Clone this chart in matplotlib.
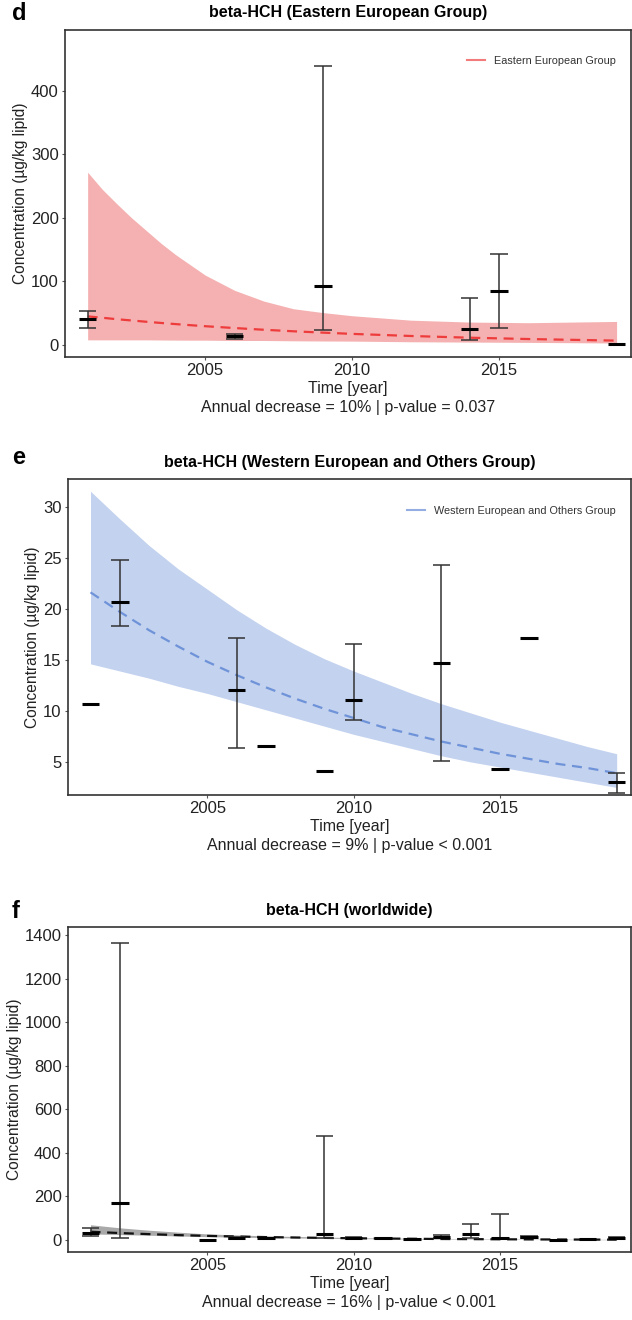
import numpy as np
import matplotlib
matplotlib.use("Agg")
import matplotlib.pyplot as plt

plt.rcParams['font.family'] = ['Liberation Sans', 'DejaVu Sans']

nan = np.nan

# ---- panel d: Eastern European Group ----
d_years = [2001, 2006, 2009, 2014, 2015, 2019]
d_mean = [41, 14, 93, 25, 85, 2]
d_low = [27, 10, 23, 7, 26, nan]
d_high = [54, 18, 440, 74, 143, nan]
d_fit_years = [2001, 2001.5, 2002, 2002.5, 2003, 2003.5, 2004, 2004.5, 2005, 2006, 2007,
               2008, 2009, 2010, 2012, 2014, 2016, 2019]
d_fit = [45, 42.8, 40.5, 38.5, 36.5, 34.6, 32.8, 31.1, 29.5, 26.6, 23.9,
         21.5, 19.4, 17.4, 14.1, 11.4, 9.3, 6.8]
d_upper = [272, 245, 222, 200, 180, 160, 142, 126, 110, 86, 69,
           57, 51, 46, 39, 36, 35, 37]
d_lower = [8, 8, 8, 8, 8, 7.8, 7.6, 7.5, 7.5, 7, 7,
           6.5, 6.2, 6, 5, 4.5, 4, 3]

# ---- panel e: Western European and Others Group ----
e_years = [2001, 2002, 2006, 2007, 2009, 2010, 2013, 2015, 2016, 2019]
e_mean = [10.7, 20.7, 12.0, 6.6, 4.1, 11.1, 14.7, 4.3, 17.1, 3.0]
e_low = [nan, 18.3, 6.4, nan, nan, 9.1, 5.1, nan, nan, 2.0]
e_high = [nan, 24.8, 17.1, nan, nan, 16.5, 24.3, nan, nan, 3.9]
e_fit_years = [2001, 2002, 2003, 2004, 2005, 2006, 2007, 2008, 2009, 2010,
               2011, 2012, 2013, 2014, 2015, 2016, 2017, 2018, 2019]
e_fit = [21.6, 19.7, 17.9, 16.3, 14.8, 13.5, 12.3, 11.2, 10.2, 9.3,
         8.4, 7.7, 7.0, 6.4, 5.8, 5.3, 4.8, 4.4, 3.9]
e_upper = [31.5, 28.8, 26.2, 23.9, 21.9, 19.9, 18.1, 16.5, 15.1, 13.9,
           12.8, 11.7, 10.7, 9.8, 8.9, 8.1, 7.3, 6.5, 5.8]
e_lower = [14.6, 13.9, 13.2, 12.4, 11.7, 10.9, 10.1, 9.3, 8.5, 7.7,
           7.0, 6.3, 5.6, 5.0, 4.5, 4.0, 3.5, 3.0, 2.5]

# ---- panel f: worldwide ----
f_years = [2001, 2002, 2005, 2006, 2007, 2009, 2010, 2011, 2012, 2013,
           2014, 2015, 2016, 2017, 2018, 2019]
f_mean = [32, 168, 1, 10, 7, 26, 9, 7, 5, 15, 26, 9, 15, 2, 6, 9]
f_low = [18, 8, nan, 5, nan, 8, 5, nan, nan, 10, 8, 4, 10, nan, nan, 5]
f_high = [54, 1365, nan, 15, nan, 477, 14, nan, nan, 22, 75, 118, 18, nan, nan, 14]
f_fit_years = [2001, 2002, 2003, 2004, 2005, 2007, 2010, 2013, 2016, 2019]
f_fit = [38, 32, 27, 22.5, 19, 13.4, 8, 4.7, 2.8, 1.7]
f_upper = [70, 56, 45, 36, 28, 19, 11, 6, 4, 3]
f_lower = [28, 25, 22, 18.5, 15.5, 11, 6.5, 3.8, 2.3, 1.3]

panels = [
    dict(letter="d", letter_y=14, title="beta-HCH (Eastern European Group)",
         years=d_years, mean=d_mean, low=d_low, high=d_high,
         fx=d_fit_years, fit=d_fit, up=d_upper, lo=d_lower,
         fill="#F5B1B1", line="#EE3B3B", leg_line="#F47B7B",
         legend="Eastern European Group", leg_anchor=(0.99, 0.95),
         ylim=(-19, 496), yticks=[0, 100, 200, 300, 400],
         note="Annual decrease = 10% | p-value = 0.037",
         box=[65, 30, 631, 357]),
    dict(letter="e", letter_y=458, title="beta-HCH (Western European and Others Group)",
         years=e_years, mean=e_mean, low=e_low, high=e_high,
         fx=e_fit_years, fit=e_fit, up=e_upper, lo=e_lower,
         fill="#C3D2EF", line="#6F93D8", leg_line="#94AEE3",
         legend="Western European and Others Group", leg_anchor=(0.99, 0.945),
         ylim=(1.76, 32.7), yticks=[5, 10, 15, 20, 25, 30],
         note="Annual decrease = 9% | p-value < 0.001",
         box=[68, 479, 631, 795]),
    dict(letter="f", letter_y=912, title="beta-HCH (worldwide)",
         years=f_years, mean=f_mean, low=f_low, high=f_high,
         fx=f_fit_years, fit=f_fit, up=f_upper, lo=f_lower,
         fill="#A9A9A9", line="#111111", leg_line=None,
         legend=None, leg_anchor=None,
         ylim=(-55, 1437), yticks=[0, 200, 400, 600, 800, 1000, 1200, 1400],
         note="Annual decrease = 16% | p-value < 0.001",
         box=[68, 927, 631, 1252]),
]

W, H = 632, 1320
fig = plt.figure(figsize=(W / 100, H / 100), dpi=100)

for p in panels:
    l, t, r, b = p["box"]
    ax = fig.add_axes([l / W, 1 - b / H, (r - l) / W, (b - t) / H])

    ax.fill_between(p["fx"], p["lo"], p["up"], color=p["fill"], lw=0, zorder=1)
    ax.plot(p["fx"], p["fit"], color=p["line"], lw=1.6, ls=(0, (4.5, 3)), zorder=2,
            label=p["legend"])

    yrs = np.array(p["years"], dtype=float)
    lo = np.array(p["low"], dtype=float)
    hi = np.array(p["high"], dtype=float)
    has = ~np.isnan(lo)
    cw = 0.3
    ax.vlines(yrs[has], lo[has], hi[has], color="#333333", lw=1.1, zorder=3)
    ax.hlines(lo[has], yrs[has] - cw, yrs[has] + cw, color="#333333", lw=1.1, zorder=3)
    ax.hlines(hi[has], yrs[has] - cw, yrs[has] + cw, color="#333333", lw=1.1, zorder=3)
    ax.hlines(p["mean"], yrs - 0.3, yrs + 0.3, color="black", lw=2.2, zorder=4)

    ax.set_xlim(2000.23, 2019.49)
    ax.set_ylim(*p["ylim"])
    ax.set_xticks([2005, 2010, 2015])
    ax.set_yticks(p["yticks"])
    ax.tick_params(labelsize=12, length=2.5, width=0.8, color="#555555",
                   labelcolor="#222222", pad=2)
    for s in ax.spines.values():
        s.set_color("#333333")
        s.set_linewidth(1.2)

    ax.set_ylabel("Concentration (µg/kg lipid)", fontsize=11.2, color="#222222", labelpad=2)
    ax.set_xlabel("Time [year]\n" + p["note"], fontsize=11.5, color="#222222",
                  labelpad=2, linespacing=1.3)
    ax.set_title(p["title"], fontsize=11.5, fontweight="bold", pad=9)
    fig.text(12 / W, 1 - p["letter_y"] / H, p["letter"], fontsize=17, fontweight="bold",
             ha="left", va="center")

    if p["legend"]:
        leg = ax.legend(loc="upper right", bbox_to_anchor=p["leg_anchor"], frameon=False,
                        fontsize=7.8, handlelength=1.7, handletextpad=0.8)
        hl = leg.get_lines()[0]
        hl.set_linestyle("-")
        hl.set_color(p["leg_line"])
        hl.set_linewidth(1.5)
        for txt in leg.get_texts():
            txt.set_color("#333333")

fig.savefig("out.png", dpi=100)
